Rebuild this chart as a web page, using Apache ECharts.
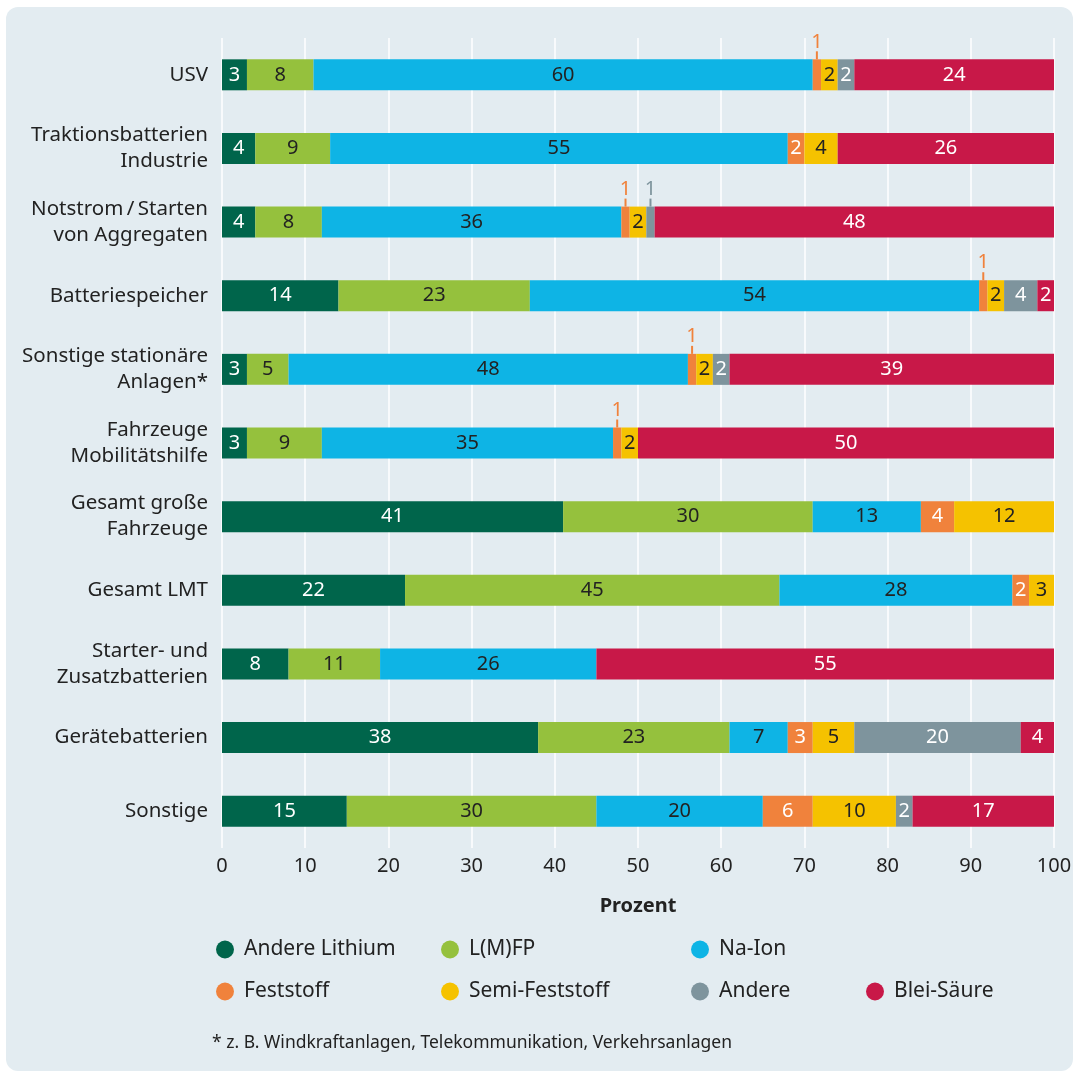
<!DOCTYPE html>
<html lang="de">
<head>
<meta charset="UTF-8">
<title>Batteriechemie</title>
<script src="https://cdn.jsdelivr.net/npm/echarts@6.0.0/dist/echarts.min.js"></script>
<style>
  html, body { margin: 0; padding: 0; background: #ffffff; }
  #panel {
    position: absolute; left: 6px; top: 7px; width: 1067px; height: 1064px;
    background: #e3ecf1; border-radius: 12px;
  }
  #main { position: absolute; left: 0; top: 0; width: 1075px; height: 1074px; }
</style>
</head>
<body>
<div id="panel"></div>
<div id="main"></div>
<script>
  const kategorien = [
    'USV',
    'Traktionsbatterien\nIndustrie',
    'Notstrom\u2009/\u2009Starten\nvon Aggregaten',
    'Batteriespeicher',
    'Sonstige stationäre\nAnlagen*',
    'Fahrzeuge\nMobilitätshilfe',
    'Gesamt große\nFahrzeuge',
    'Gesamt LMT',
    'Starter- und\nZusatzbatterien',
    'Gerätebatterien',
    'Sonstige'
  ];
  const andereLithium = [3, 4, 4, 14, 3, 3, 41, 22, 8, 38, 15];
  const lmfp          = [8, 9, 8, 23, 5, 9, 30, 45, 11, 23, 30];
  const naIon         = [60, 55, 36, 54, 48, 35, 13, 28, 26, 7, 20];
  const feststoff     = [1, 2, 1, 1, 1, 1, 4, 2, 0, 3, 6];
  const semiFeststoff = [2, 4, 2, 2, 2, 2, 12, 3, 0, 5, 10];
  const andere        = [2, 0, 1, 4, 2, 0, 0, 0, 0, 20, 2];
  const bleiSaeure    = [24, 26, 48, 2, 39, 50, 0, 0, 55, 4, 17];

  const FONT = '"Noto Sans", sans-serif';
  const DARK = '#222222';

  const reihen = [
    { name: 'Andere Lithium', data: andereLithium, color: '#00654b', text: '#ffffff' },
    { name: 'L(M)FP',         data: lmfp,          color: '#95c13d', text: DARK },
    { name: 'Na-Ion',         data: naIon,         color: '#0eb4e5', text: DARK },
    { name: 'Feststoff',      data: feststoff,     color: '#f0823c', text: '#ffffff' },
    { name: 'Semi-Feststoff', data: semiFeststoff, color: '#f5c200', text: DARK },
    { name: 'Andere',         data: andere,        color: '#7e949d', text: '#ffffff' },
    { name: 'Blei-Säure',     data: bleiSaeure,    color: '#c81848', text: '#ffffff' }
  ];

  const series = reihen.map(r => ({
    name: r.name,
    type: 'bar',
    stack: 'gesamt',
    barWidth: 31,
    itemStyle: { color: r.color },
    label: {
      show: true,
      position: 'inside',
      color: r.text,
      fontFamily: FONT,
      fontSize: 20,
      formatter: p => p.value === 0 ? '' : (p.value === 1 ? '{n|1}\n{t| }' : String(p.value)),
      rich: {
        n: { color: r.color, fontFamily: FONT, fontSize: 20, lineHeight: 19, align: 'center' },
        t: { width: 2, height: 8, lineHeight: 8, backgroundColor: r.color, align: 'center' }
      }
    },
    data: r.data.map(v => v === 1
      ? { value: v, label: { position: 'top', distance: 0 } }
      : v)
  }));

  // legend placed like a grid: 3 items in the first row, 4 in the second
  const legendPos = [
    [211, 934], [436, 934], [686, 934],
    [211, 976], [436, 976], [686, 976], [861, 976]
  ];
  const legends = reihen.map((r, i) => ({
    data: [r.name],
    left: legendPos[i][0],
    top: legendPos[i][1],
    icon: 'circle',
    itemWidth: 18,
    itemHeight: 18,
    selectedMode: false,
    textStyle: { fontFamily: FONT, fontSize: 21, color: DARK, padding: [0, 0, 0, 5] }
  }));

  const chart = echarts.init(document.getElementById('main'));
  chart.setOption({
    animation: false,
    color: reihen.map(r => r.color),
    grid: { left: 222, right: 21, top: 38, bottom: 226 },
    legend: legends,
    xAxis: {
      type: 'value',
      min: 0,
      max: 100,
      interval: 10,
      name: 'Prozent',
      nameLocation: 'middle',
      nameGap: 48,
      nameTextStyle: { fontFamily: FONT, fontSize: 20, fontWeight: 'bold', color: DARK },
      axisLine: { show: false },
      axisTick: { show: false },
      axisLabel: { fontFamily: FONT, fontSize: 20, color: DARK, margin: 8 },
      splitLine: { show: true, lineStyle: { color: '#ffffff', width: 1.5 } }
    },
    yAxis: {
      type: 'category',
      data: kategorien,
      inverse: true,
      axisLine: { show: false },
      axisTick: { show: false },
      axisLabel: { fontFamily: FONT, fontSize: 20.5, color: DARK, margin: 14, lineHeight: 26, align: 'right' }
    },
    graphic: [{
      type: 'text',
      left: 212,
      top: 1034,
      style: {
        text: '* z. B. Windkraftanlagen, Telekommunikation, Verkehrsanlagen',
        font: '17.5px "Noto Sans", sans-serif',
        fill: DARK
      }
    }],
    series: series
  });
</script>
</body>
</html>
